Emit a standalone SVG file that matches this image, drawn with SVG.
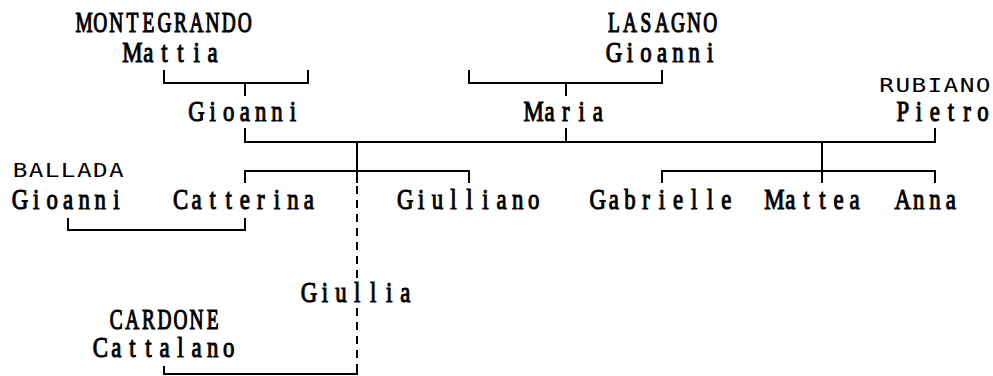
<svg xmlns="http://www.w3.org/2000/svg" width="993" height="376" viewBox="0 0 993 376">
<style>
.s{font-family:"Liberation Serif","Times New Roman",serif;font-size:30px;text-anchor:middle;fill:#000;stroke:#000;stroke-width:1.1}
.u{font-family:"Liberation Serif","Times New Roman",serif;font-size:28.5px;text-anchor:middle;fill:#000;stroke:#000;stroke-width:1.2}
.a{font-family:"DejaVu Sans Mono","Liberation Mono",monospace;font-size:19.5px;text-anchor:middle;fill:#000}
.c{fill:none;stroke:#000;stroke-width:2}
.d{fill:none;stroke:#000;stroke-width:2;stroke-dasharray:8 6}
</style>
<rect width="993" height="376" fill="#fff"/>
<g id="connectors">
<path class="c" d="M164,70V83H308V70M245,83V96"/>
<path class="c" d="M469,70V83H662V70M566,83V96"/>
<path class="c" d="M245,128V142H935V128M566,128V142"/>
<path class="c" d="M357,142V183M245,183V171H469V183"/>
<path class="c" d="M822,142V183M662,183V171H935V183"/>
<path class="c" d="M68,218V230H245V218"/>
<path class="d" d="M357,186V280M357,308V366"/>
<path class="c" d="M357,366V374H164V366"/>
</g>
<g id="montegrando-mattia">
<text class="u" transform="translate(76.2,32) scale(0.68,1)" x="11.8 35.4 59.01 82.61 106.21 129.82 153.42 177.02 200.63 224.23 247.83">MONTEGRANDO</text>
<text class="s" transform="translate(124.35,62) scale(0.76,1)" x="10.56 31.68 52.8 73.91 95.03 116.15">Mattia</text>
</g>
<g id="lasagno-gioanni">
<text class="u" transform="translate(605.85,32) scale(0.68,1)" x="11.8 35.4 59.01 82.61 106.21 129.82 153.42">LASAGNO</text>
<text class="s" transform="translate(605.85,62) scale(0.76,1)" x="10.56 31.68 52.8 73.91 95.03 116.15 137.27">Gioanni</text>
</g>
<g id="gioanni">
<text class="s" transform="translate(188.55,121) scale(0.76,1)" x="10.56 31.68 52.8 73.91 95.03 116.15 137.27">Gioanni</text>
</g>
<g id="maria">
<text class="s" transform="translate(525.6,121) scale(0.76,1)" x="10.56 31.68 52.8 73.91 95.03">Maria</text>
</g>
<g id="rubiano-pietro">
<text class="a" transform="translate(878.7,92) scale(1.25,1)" x="6.42 19.26 32.1 44.94 57.78 70.62 83.46">RUBIANO</text>
<text class="s" transform="translate(894.75,121) scale(0.76,1)" x="10.56 31.68 52.8 73.91 95.03 116.15">Pietro</text>
</g>
<g id="ballada-gioanni">
<text class="a" transform="translate(12,177) scale(1.25,1)" x="6.42 19.26 32.1 44.94 57.78 70.62 83.46">BALLADA</text>
<text class="s" transform="translate(12,209) scale(0.76,1)" x="10.56 31.68 52.8 73.91 95.03 116.15 137.27">Gioanni</text>
</g>
<g id="catterina">
<text class="s" transform="translate(172.5,209) scale(0.76,1)" x="10.56 31.68 52.8 73.91 95.03 116.15 137.27 158.39 179.5">Catterina</text>
</g>
<g id="giulliano">
<text class="s" transform="translate(397.2,209) scale(0.76,1)" x="10.56 31.68 52.8 73.91 95.03 116.15 137.27 158.39 179.5">Giulliano</text>
</g>
<g id="gabrielle">
<text class="s" transform="translate(589.8,209) scale(0.76,1)" x="10.56 31.68 52.8 73.91 95.03 116.15 137.27 158.39 179.5">Gabrielle</text>
</g>
<g id="mattea">
<text class="s" transform="translate(766.35,209) scale(0.76,1)" x="10.56 31.68 52.8 73.91 95.03 116.15">Mattea</text>
</g>
<g id="anna">
<text class="s" transform="translate(894.75,209) scale(0.76,1)" x="10.56 31.68 52.8 73.91">Anna</text>
</g>
<g id="giullia">
<text class="s" transform="translate(300.9,302) scale(0.76,1)" x="10.56 31.68 52.8 73.91 95.03 116.15 137.27">Giullia</text>
</g>
<g id="cardone-cattalano">
<text class="u" transform="translate(108.3,329) scale(0.68,1)" x="11.8 35.4 59.01 82.61 106.21 129.82 153.42">CARDONE</text>
<text class="s" transform="translate(92.25,357) scale(0.76,1)" x="10.56 31.68 52.8 73.91 95.03 116.15 137.27 158.39 179.5">Cattalano</text>
</g>
</svg>
